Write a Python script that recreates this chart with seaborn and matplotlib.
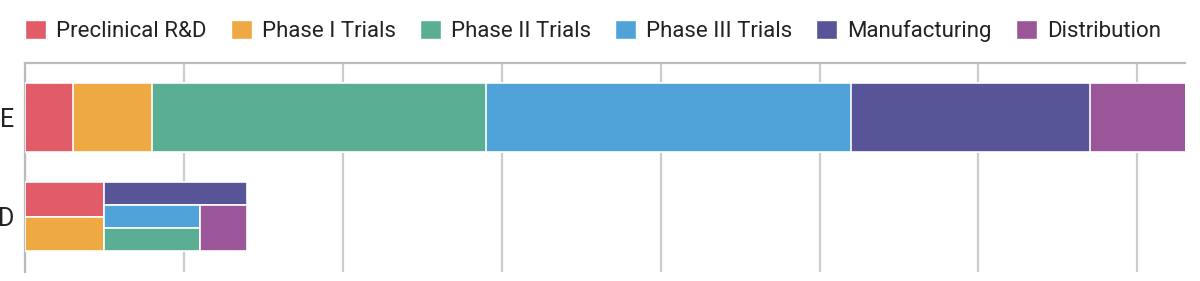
import numpy as np
import pandas as pd
import matplotlib
matplotlib.use("Agg")
import matplotlib.pyplot as plt
from matplotlib.patches import Patch
import seaborn as sns

# ---- data ----
series = ["Preclinical R&D", "Phase I Trials", "Phase II Trials",
          "Phase III Trials", "Manufacturing", "Distribution"]
colors = ["#E15B68", "#EEA943", "#5AAE94", "#4FA3D9", "#575498", "#9A5698"]
categories = ["E", "D"]
values_E = [30, 50, 210, 230, 150, 80]
values_D = [25, 25, 20, 20, 30, 20]
x_ticks = [0, 100, 200, 300, 400, 500, 600, 700]
x_max = 730

sns.set_theme(style="white")
plt.rcParams["font.family"] = ["Roboto", "DejaVu Sans"]

fig = plt.figure(figsize=(12, 2.81), dpi=100)
ax = fig.add_axes([25 / 1200, 1 - 272 / 281, 1160 / 1200, (272 - 63) / 281])

bar_h = 0.7
# E: stacked bar via cumulative overlay (longest first)
cum = np.cumsum(values_E)
for i in range(len(series) - 1, -1, -1):
    df = pd.DataFrame({"cat": ["E"], "val": [cum[i]]})
    sns.barplot(data=df, x="val", y="cat", order=categories, color=colors[i],
                width=bar_h, edgecolor="white", linewidth=1.2, ax=ax,
                saturation=1, zorder=3)

# D: treemap-style layout inside its band
vD = dict(zip(series, values_D))
layout = ("h", [("v", ["Preclinical R&D", "Phase I Trials"]),
                ("v", ["Manufacturing",
                       ("h", [("v", ["Phase III Trials", "Phase II Trials"]),
                              "Distribution"])])])

def total(node):
    if isinstance(node, str):
        return vD[node]
    return sum(total(c) for c in node[1])

def place(node, x0, x1, y0, y1):
    if isinstance(node, str):
        c = colors[series.index(node)]
        ax.barh(y=(y0 + y1) / 2, width=x1 - x0, left=x0, height=y1 - y0,
                color=c, edgecolor="white", linewidth=1.2, zorder=3)
        return
    kind, kids = node
    t = total(node)
    pos = x0 if kind == "h" else y0
    for k in kids:
        frac = total(k) / t
        if kind == "h":
            w = (x1 - x0) * frac
            place(k, pos, pos + w, y0, y1)
            pos += w
        else:
            h = (y1 - y0) * frac
            place(k, x0, x1, pos, pos + h)
            pos += h

d_total = total(layout)
place(layout, 0, d_total, 1 - bar_h / 2, 1 + bar_h / 2)

ax.set_xlim(0, x_max)
ax.set_ylim(1.56, -0.55)
ax.set_xticks(x_ticks)
ax.set_xticklabels([])
ax.set_xlabel("")
ax.set_ylabel("")
ax.grid(axis="x", color="#cccccc", linewidth=1.6, zorder=0)
ax.grid(axis="y", visible=False)
ax.set_axisbelow(True)
ax.tick_params(axis="y", length=0, pad=8, labelsize=18, labelcolor="#222222")
ax.tick_params(axis="x", length=0)
for s in ["right", "bottom"]:
    ax.spines[s].set_visible(False)
for s in ["top", "left"]:
    ax.spines[s].set_color("#bbbbbb")
    ax.spines[s].set_linewidth(1.6)

handles = [Patch(facecolor=c, edgecolor="white", label=s) for s, c in zip(series, colors)]
fig.legend(handles=handles, loc="center left", bbox_to_anchor=(25 / 1200, 1 - 31 / 281),
           ncol=6, frameon=False, fontsize=16, handlelength=0.95, handleheight=0.95,
           handletextpad=0.45, columnspacing=1.08, labelcolor="#222222",
           borderpad=0, borderaxespad=0)

fig.savefig("out.png", dpi=100, facecolor="white")
